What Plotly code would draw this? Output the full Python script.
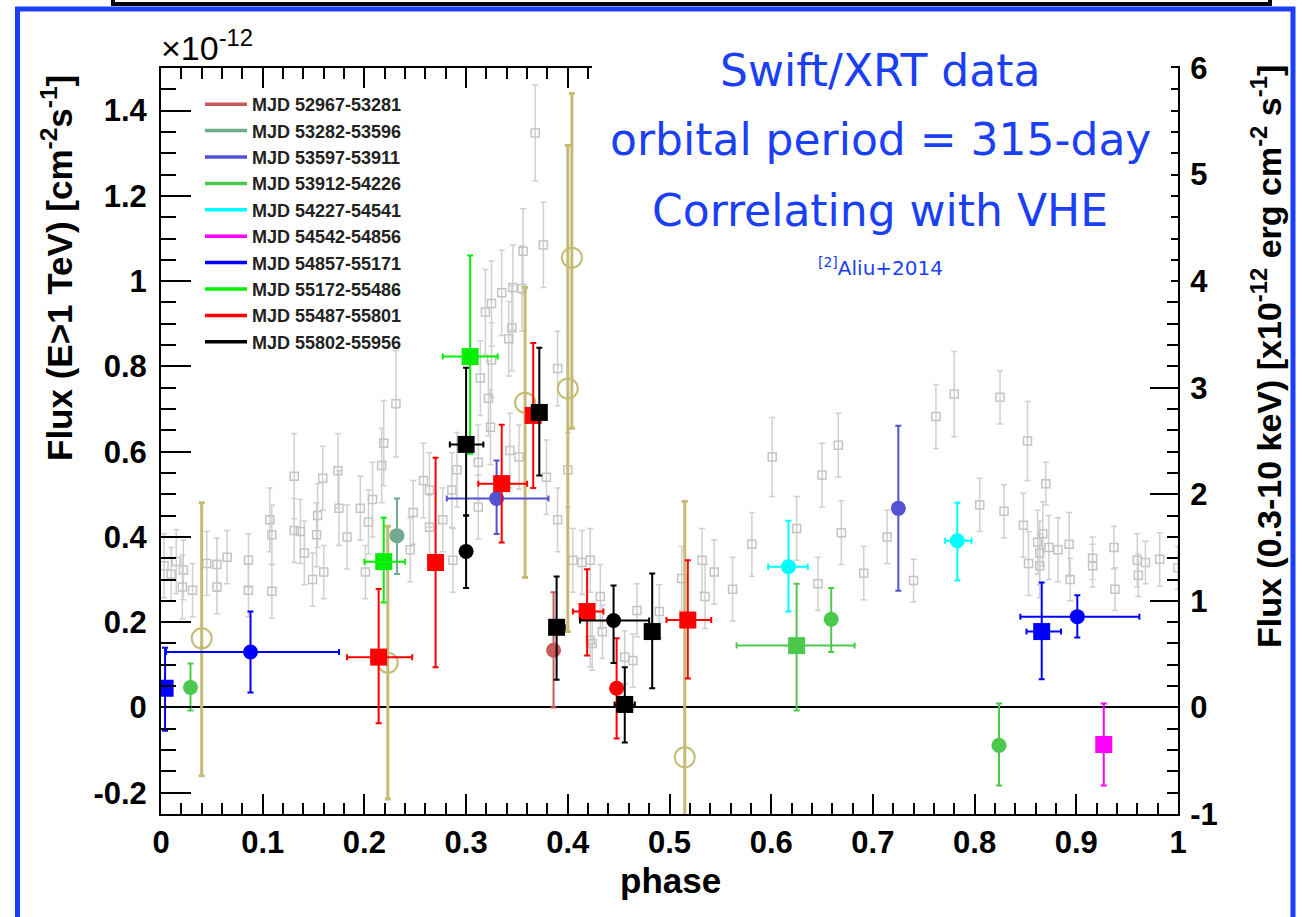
import plotly.graph_objects as go

# ---------------- data ----------------
mjd_labels = ["MJD 52967-53281", "MJD 53282-53596", "MJD 53597-53911", "MJD 53912-54226",
              "MJD 54227-54541", "MJD 54542-54856", "MJD 54857-55171", "MJD 55172-55486",
              "MJD 55487-55801", "MJD 55802-55956"]
mjd_colors = ["#c85a5a", "#6fab8c", "#5252d2", "#4cc94c", "#00ffff",
              "#ff00ff", "#0000ff", "#00f000", "#ff0000", "#000000"]

# Swift/XRT (right axis, x10^-12 erg cm^-2 s^-1)
grey_phase = [0.003, 0.010, 0.015, 0.021, 0.022, 0.031, 0.045, 0.055, 0.055, 0.065,
              0.086, 0.086, 0.107, 0.109, 0.109, 0.131, 0.131, 0.137, 0.141, 0.149,
              0.154, 0.153, 0.159, 0.160, 0.174, 0.175, 0.183, 0.196, 0.201, 0.204,
              0.208, 0.217, 0.219, 0.231, 0.245, 0.248, 0.258, 0.264, 0.264, 0.277,
              0.286, 0.287, 0.291, 0.312, 0.312, 0.314, 0.319, 0.322, 0.324, 0.325,
              0.325, 0.335, 0.342, 0.343, 0.345, 0.346, 0.352, 0.355, 0.356, 0.368,
              0.376, 0.379, 0.390, 0.390, 0.400, 0.405, 0.414, 0.422, 0.422, 0.424,
              0.432, 0.434, 0.456, 0.464, 0.468, 0.490, 0.512, 0.532, 0.535, 0.544,
              0.562, 0.581, 0.601, 0.625, 0.646, 0.650, 0.666, 0.669, 0.691, 0.714,
              0.740, 0.762, 0.780, 0.805, 0.825, 0.829, 0.848, 0.852, 0.853, 0.862,
              0.864, 0.864, 0.867, 0.870, 0.873, 0.882, 0.893, 0.894, 0.916, 0.916,
              0.937, 0.938, 0.960, 0.961, 0.968, 0.982, 1.000]
grey_flux = [1.33, 1.25, 1.37, 1.13, 1.29, 1.10, 1.35, 1.34, 1.13, 1.41,
             1.38, 1.10, 1.76, 1.62, 1.09, 2.17, 1.66, 1.65, 1.45, 1.20,
             1.80, 1.62, 2.15, 1.27, 2.22, 1.87, 1.60, 1.87, 1.27, 1.74,
             1.95, 2.27, 2.48, 2.85, 1.48, 1.83, 2.13, 2.04, 1.69, 1.76,
             2.04, 1.38, 2.23, 2.30, 1.88, 3.09, 3.71, 2.90, 2.63, 3.79,
             3.26, 3.89, 3.46, 2.41, 3.56, 3.94, 2.35, 3.93, 4.28, 5.39,
             4.34, 2.16, 3.18, 1.76, 2.23, 1.38, 1.36, 1.38, 0.63, 0.60,
             1.04, 0.71, 0.47, 0.44, 0.91, 0.90, 1.21, 1.38, 1.04, 1.27,
             1.11, 1.53, 2.35, 1.68, 1.16, 2.18, 2.46, 1.64, 1.26, 1.60,
             1.19, 2.73, 2.94, 1.90, 2.91, 1.84, 1.71, 2.50, 1.35, 1.55,
             1.45, 1.33, 1.63, 2.10, 1.50, 1.48, 1.53, 1.20, 1.40, 1.33,
             1.50, 1.11, 1.38, 1.24, 1.36, 1.39, 1.31]
grey_err = [0.30, 0.25, 0.30, 0.30, 0.28, 0.25, 0.30, 0.25, 0.25, 0.25,
            0.25, 0.25, 0.30, 0.28, 0.25, 0.40, 0.30, 0.30, 0.30, 0.25,
            0.30, 0.30, 0.30, 0.25, 0.35, 0.35, 0.30, 0.30, 0.25, 0.30,
            0.35, 0.35, 0.40, 0.50, 0.30, 0.30, 0.35, 0.35, 0.30, 0.30,
            0.35, 0.30, 0.35, 0.35, 0.30, 0.35, 0.40, 0.35, 0.35, 0.40,
            0.35, 0.40, 0.35, 0.35, 0.40, 0.40, 0.30, 0.40, 0.40, 0.45,
            0.40, 0.35, 0.35, 0.30, 0.35, 0.30, 0.30, 0.30, 0.25, 0.25,
            0.30, 0.25, 0.25, 0.25, 0.25, 0.25, 0.30, 0.30, 0.30, 0.30,
            0.30, 0.30, 0.37, 0.30, 0.25, 0.30, 0.30, 0.30, 0.25, 0.25,
            0.20, 0.30, 0.40, 0.25, 0.25, 0.25, 0.30, 0.37, 0.30, 0.30,
            0.30, 0.30, 0.30, 0.20, 0.30, 0.30, 0.30, 0.20, 0.20, 0.20,
            0.20, 0.20, 0.25, 0.20, 0.20, 0.25, 0.20]

# VHE flux (left axis, units of 1e-12 cm^-2 s^-1)
vhe_phase = [0.004, 0.029, 0.088, 0.214, 0.219, 0.232, 0.270, 0.300, 0.300, 0.304,
             0.330, 0.335, 0.366, 0.372, 0.386, 0.389, 0.419, 0.445, 0.448, 0.456,
             0.483, 0.518, 0.617, 0.625, 0.659, 0.725, 0.783, 0.824, 0.927, 0.866,
             0.901]
vhe_flux = [0.045, 0.047, 0.130, 0.118, 0.342, 0.403, 0.340, 0.366, 0.617, 0.823,
            0.490, 0.525, 0.685, 0.692, 0.134, 0.188, 0.225, 0.204, 0.045, 0.007,
            0.178, 0.205, 0.330, 0.145, 0.207, 0.467, 0.391, -0.089, -0.087, 0.178,
            0.213]
vhe_err_lo = [0.100, 0.054, 0.095, 0.155, 0.096, 0.090, 0.246, 0.086, 0.167, 0.228,
              0.083, 0.138, 0.170, 0.148, 0.134, 0.123, 0.103, 0.100, 0.118, 0.089,
              0.133, 0.137, 0.105, 0.152, 0.077, 0.193, 0.093, 0.094, 0.096, 0.112,
              0.049]
vhe_err_hi = [0.095, 0.056, 0.095, 0.160, 0.103, 0.087, 0.246, 0.084, 0.180, 0.237,
              0.089, 0.138, 0.170, 0.152, 0.136, 0.119, 0.099, 0.082, 0.117, 0.087,
              0.136, 0.140, 0.108, 0.145, 0.073, 0.194, 0.089, 0.098, 0.096, 0.115,
              0.050]
vhe_phase_err_lo = [0.004, 0.0, 0.083, 0.031, 0.019, 0.0, 0.0, 0.0, 0.016, 0.027,
                    0.049, 0.023, 0.0, 0.0, 0.0, 0.007, 0.014, 0.033, 0.0, 0.010,
                    0.0, 0.021, 0.020, 0.059, 0.0, 0.0, 0.012, 0.0, 0.0, 0.015,
                    0.056]
vhe_phase_err_hi = [0.006, 0.0, 0.087, 0.033, 0.021, 0.0, 0.0, 0.0, 0.017, 0.027,
                    0.051, 0.025, 0.0, 0.0, 0.0, 0.008, 0.016, 0.035, 0.0, 0.010,
                    0.0, 0.023, 0.019, 0.057, 0.0, 0.0, 0.014, 0.0, 0.0, 0.019,
                    0.061]
vhe_group = [6, 3, 6, 8, 7, 1, 8, 9, 9, 7,
             2, 8, 8, 9, 0, 9, 8, 9, 8, 9,
             9, 8, 4, 3, 3, 2, 4, 3, 5, 6,
             6]
vhe_symbol = ["square", "circle", "circle", "square", "square", "circle", "square", "circle", "square", "square",
              "circle", "square", "square", "square", "circle", "square", "square", "circle", "circle", "square",
              "square", "square", "circle", "square", "circle", "circle", "circle", "circle", "square", "square",
              "circle"]

# open olive circles (no legend entry)
olive_phase = [0.040, 0.223, 0.358, 0.400, 0.404, 0.515]
olive_flux = [0.162, 0.105, 0.715, 0.748, 1.055, -0.117]
olive_err_lo = [0.322, 0.320, 0.410, 0.570, 0.400, 0.600]
olive_err_hi = [0.318, 0.320, 0.270, 0.570, 0.385, 0.600]

phase_tick_vals = [0, 0.1, 0.2, 0.3, 0.4, 0.5, 0.6, 0.7, 0.8, 0.9, 1.0]
phase_tick_text = ["0", "0.1", "0.2", "0.3", "0.4", "0.5", "0.6", "0.7", "0.8", "0.9", "1"]
left_tick_vals = [-0.2, 0, 0.2, 0.4, 0.6, 0.8, 1.0, 1.2, 1.4]
left_tick_text = ["-0.2", "0", "0.2", "0.4", "0.6", "0.8", "1", "1.2", "1.4"]
right_tick_vals = [-1, 0, 1, 2, 3, 4, 5, 6]
right_tick_text = ["-1", "0", "1", "2", "3", "4", "5", "6"]

# ---------------- figure ----------------
W, H = 1302, 917
L, R, T, B = 161, 1178, 68, 814     # plot area in pixels


def px(x):
    return (x - L) / (R - L)


def py(y):
    return (B - y) / (B - T)


BLUE = "#1b3ff5"
NARROW = "Liberation Sans Narrow, Liberation Sans, Arial, sans-serif"
WIDE = "Liberation Sans, Arial, sans-serif"
BIG = "DejaVu Sans, Noto Sans, sans-serif"
fig = go.Figure()

# grey Swift/XRT points on base (right) axis
fig.add_trace(go.Scatter(
    x=grey_phase, y=grey_flux, mode="markers", yaxis="y", xaxis="x",
    marker=dict(symbol="square-open", size=8, color="#c4c4c4", line=dict(width=1.5, color="#c4c4c4")),
    error_y=dict(type="data", array=grey_err, color="#d0d0d0", thickness=1.5, width=3),
    showlegend=False, hoverinfo="skip"))

# olive open circles
fig.add_trace(go.Scatter(
    x=olive_phase, y=olive_flux, mode="markers", yaxis="y2",
    marker=dict(symbol="circle-open", size=20, color="#c4bb74", line=dict(width=2, color="#c4bb74")),
    error_y=dict(type="data", array=olive_err_hi, arrayminus=olive_err_lo, color="#c4bb74",
                 thickness=3, width=3),
    showlegend=False, hoverinfo="skip"))

# coloured VHE points per group and symbol
for g in range(len(mjd_labels)):
    for sym in ["circle", "square"]:
        idx = [i for i in range(len(vhe_phase)) if vhe_group[i] == g and vhe_symbol[i] == sym]
        if not idx:
            continue
        col = mjd_colors[g]
        fig.add_trace(go.Scatter(
            x=[vhe_phase[i] for i in idx], y=[vhe_flux[i] for i in idx],
            mode="markers", yaxis="y2",
            marker=dict(symbol=sym, size=17 if sym == "square" else 15, color=col, line=dict(width=0)),
            error_y=dict(type="data", array=[vhe_err_hi[i] for i in idx],
                         arrayminus=[vhe_err_lo[i] for i in idx], color=col, thickness=2, width=3),
            error_x=dict(type="data", array=[vhe_phase_err_hi[i] for i in idx],
                         arrayminus=[vhe_phase_err_lo[i] for i in idx], color=col, thickness=2, width=3),
            showlegend=False, hoverinfo="skip"))

# legend entries (line samples)
for g in range(len(mjd_labels)):
    fig.add_trace(go.Scatter(
        x=[None], y=[None], mode="lines", yaxis="y2", name=mjd_labels[g],
        line=dict(color=mjd_colors[g], width=3.5)))

axis_common = dict(ticks="inside", showline=True, linecolor="black", linewidth=2,
                   tickcolor="black", tickwidth=2, showgrid=False,
                   tickfont=dict(family=NARROW, size=31, color="black", weight="bold"))

fig.update_layout(
    width=W, height=H,
    margin=dict(l=L, r=W - R, t=T, b=H - B, pad=0),
    paper_bgcolor="white", plot_bgcolor="white",
    xaxis=dict(range=[0, 1], tickvals=phase_tick_vals, ticktext=phase_tick_text,
               ticklen=20, mirror="ticks", zeroline=False, ticklabelstandoff=0,
               minor=dict(dtick=0.02, ticklen=11, tickwidth=2, tickcolor="black", ticks="inside"),
               **axis_common),
    yaxis=dict(range=[-1, 6], side="right", tickvals=right_tick_vals, ticktext=right_tick_text,
               ticklen=28, anchor="x", zeroline=False, ticklabelstandoff=4,
               minor=dict(dtick=0.2, ticklen=11, tickwidth=2, tickcolor="black", ticks="inside"),
               **axis_common),
    yaxis2=dict(range=[-0.25, 1.5], side="left", overlaying="y", anchor="x",
                tickvals=left_tick_vals, ticktext=left_tick_text, ticklen=30, ticklabelstandoff=6,
                minor=dict(dtick=0.05, ticklen=15, tickwidth=2, tickcolor="black", ticks="inside"),
                zeroline=True, zerolinecolor="black", zerolinewidth=1.5,
                **axis_common),
    legend=dict(x=px(200), y=py(86), xanchor="left", yanchor="top",
                bgcolor="rgba(0,0,0,0)", borderwidth=0, tracegroupgap=0, itemwidth=42,
                font=dict(family=NARROW, size=18, color="#222222", weight="bold")),
    showlegend=True,
    hovermode=False,
)

annotations = [
    dict(text="Flux (E>1 TeV) [cm<sup>-2</sup>s<sup>-1</sup>]", x=px(57), y=py(268), textangle=-90,
         font=dict(family=WIDE, size=35, color="black", weight="bold")),
    dict(text="Flux (0.3-10 keV) [x10<sup>-12</sup> erg cm<sup>-2</sup> s<sup>-1</sup>]",
         x=px(1266), y=py(357), textangle=-90,
         font=dict(family=WIDE, size=34, color="black", weight="bold")),
    dict(text="phase", x=px(670), y=py(880),
         font=dict(family=NARROW, size=35, color="black", weight="bold")),
    dict(text="×10<sup>-12</sup>", x=px(207), y=py(45),
         font=dict(family=NARROW, size=34, color="black")),
    dict(text="Swift/XRT data", x=px(880), y=py(70),
         font=dict(family=BIG, size=44, color=BLUE)),
    dict(text="orbital period = 315-day", x=px(880), y=py(140),
         font=dict(family=BIG, size=44, color=BLUE)),
    dict(text="Correlating with VHE", x=px(880), y=py(210),
         font=dict(family=BIG, size=44, color=BLUE)),
    dict(text="<sup>[2]</sup>Aliu+2014", x=px(880), y=py(267),
         font=dict(family=BIG, size=20, color=BLUE)),
]
for a in annotations:
    a.update(xref="paper", yref="paper", showarrow=False, xanchor="center", yanchor="middle")
fig.update_layout(annotations=annotations)

fig.update_layout(shapes=[
    # white text box laid over the top-right of the frame
    dict(type="rect", xref="paper", yref="paper", x0=px(592), x1=px(1171), y0=py(300), y1=py(12),
         line=dict(width=0), fillcolor="white", layer="above"),
    dict(type="rect", xref="paper", yref="paper", x0=px(17.5), x1=px(1293), y0=py(940), y1=py(9),
         line=dict(color=BLUE, width=5), fillcolor="rgba(0,0,0,0)", layer="above"),
    dict(type="rect", xref="paper", yref="paper", x0=px(113), x1=px(1270), y0=py(4), y1=py(-30),
         line=dict(color="black", width=4), fillcolor="white", layer="above"),
])

fig.write_html("out.html", config={"displayModeBar": False},
               post_script="document.body.style.margin='0px';document.body.style.overflow='hidden';")
